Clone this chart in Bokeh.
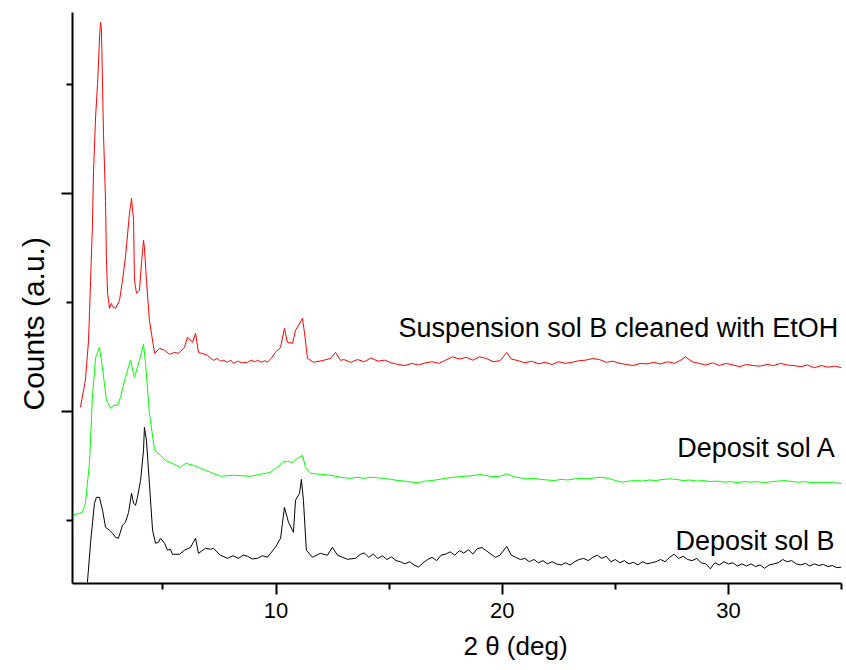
from bokeh.plotting import figure
from bokeh.models import FixedTicker, Label, Range1d, Title
from bokeh.embed import file_html
from bokeh.resources import INLINE

# ---- data (2-theta in deg, counts in a.u., curves stacked as plotted) ----
red_x = [1.35, 1.57, 1.71, 1.80, 1.88, 1.93, 2.02, 2.11, 2.20, 2.24, 2.28, 2.37, 2.46, 2.50, 2.55,
         2.64, 2.72, 2.77, 2.90, 3.08, 3.21, 3.34, 3.52, 3.61, 3.70, 3.74, 3.83, 3.96, 4.05, 4.14,
         4.18, 4.27, 4.40, 4.63, 4.85, 5.07, 5.29, 5.51, 5.69, 5.95, 6.08, 6.31, 6.44, 6.57, 6.97,
         7.10, 7.23, 7.40, 7.54, 7.68, 7.85, 8.00, 8.12, 8.30, 8.50, 8.74, 8.90, 9.05, 9.18, 9.35,
         9.50, 9.62, 9.80, 9.97, 10.20, 10.37, 10.50, 10.73, 10.86, 11.17, 11.26, 11.39, 11.65, 12.10,
         12.41, 12.63, 12.85, 13.00,
         13.3, 13.6, 13.9, 14.2, 14.5, 14.8, 15.1, 15.4, 15.7, 16.0, 16.3, 16.6, 16.9, 17.2, 17.5,
         17.8, 18.1, 18.4, 18.7, 19.0, 19.3, 19.6, 19.9, 20.2, 20.4, 20.7, 21.0, 21.3, 21.6, 21.9,
         22.2, 22.5, 22.8, 23.1, 23.4, 23.7, 24.0, 24.3, 24.6, 24.9, 25.2, 25.5, 25.8, 26.1, 26.4,
         26.7, 27.0, 27.3, 27.6, 27.9, 28.1, 28.4, 28.7, 29.0, 29.3, 29.6, 29.9, 30.2, 30.5, 30.8,
         31.1, 31.4, 31.7, 32.0, 32.3, 32.6, 32.9, 33.2, 33.5, 33.8, 34.1, 34.4, 34.7, 35.0]
red_y = [2037, 2284, 2651, 3202, 3700, 4200, 4700, 5009, 5450, 5569, 5500, 4550, 3936, 3400, 3083,
         2945, 2990, 2963, 2945, 3018, 3202, 3413, 3816, 3954, 3752, 3202, 3083, 3110, 3358, 3569,
         3505, 3202, 2835, 2532, 2578, 2560, 2523, 2541, 2532, 2587, 2679, 2633, 2716, 2541, 2514,
         2490, 2468, 2485, 2460, 2468, 2450, 2470, 2440, 2460, 2445, 2450, 2470, 2455, 2468, 2450,
         2465, 2450, 2490, 2541, 2587, 2761, 2633, 2624, 2743, 2853, 2716, 2486, 2450, 2468,
         2486, 2541, 2468, 2475,
         2450, 2475, 2455, 2490, 2460, 2470, 2445, 2430, 2420, 2440, 2425, 2445, 2455, 2440, 2470,
         2500, 2480, 2495, 2470, 2500, 2485, 2455, 2465, 2540, 2480, 2465, 2445, 2460, 2435, 2450,
         2430, 2455, 2440, 2450, 2465, 2470, 2485, 2475, 2450, 2460, 2440, 2430, 2420, 2440, 2435,
         2450, 2435, 2455, 2440, 2470, 2500, 2455, 2440, 2425, 2445, 2420, 2440, 2425, 2410, 2430,
         2420, 2415, 2430, 2420, 2440, 2425, 2420, 2410, 2425, 2400, 2420, 2405, 2415, 2400]

green_x = [1.00, 1.44, 1.57, 1.75, 1.88, 2.02, 2.19, 2.28, 2.41, 2.50, 2.68, 2.81, 2.99, 3.12, 3.34,
           3.56, 3.74, 3.96, 4.14, 4.23, 4.40, 4.63, 4.89, 5.11, 5.42, 5.77, 6.00, 6.35, 6.66, 7.10,
           7.54, 8.12, 8.87, 9.31, 9.75, 10.06, 10.28, 10.50, 10.73, 10.95, 11.17, 11.30, 11.52, 11.96,
           12.41, 12.85, 13.29,
           13.6, 13.9, 14.2, 14.5, 14.8, 15.1, 15.4, 15.7, 16.0, 16.3, 16.6, 16.9, 17.2, 17.5, 17.8,
           18.1, 18.4, 18.7, 19.0, 19.3, 19.6, 19.9, 20.2, 20.5, 20.8, 21.1, 21.4, 21.7, 22.0, 22.3,
           22.6, 22.9, 23.2, 23.5, 23.8, 24.1, 24.4, 24.7, 25.0, 25.3, 25.6, 25.9, 26.2, 26.5, 26.8,
           27.1, 27.4, 27.7, 28.0, 28.3, 28.6, 28.9, 29.2, 29.5, 29.8, 30.1, 30.4, 30.7, 31.0, 31.3,
           31.6, 31.9, 32.2, 32.5, 32.8, 33.1, 33.4, 33.7, 34.0, 34.3, 34.6, 35.0]
green_y = [1046, 1073, 1156, 1523, 2128, 2495, 2587, 2468, 2257, 2101, 2028, 2055, 2055, 2128, 2312,
           2468, 2312, 2468, 2615, 2440, 1982, 1642, 1596, 1550, 1523, 1486, 1523, 1505, 1477, 1440,
           1404, 1413, 1404, 1422, 1440, 1486, 1532, 1541, 1532, 1569, 1596, 1486, 1431, 1422,
           1413, 1394, 1385,
           1395, 1385, 1395, 1390, 1385, 1375, 1365, 1360, 1350, 1345, 1360, 1365, 1375, 1385, 1395,
           1400, 1405, 1410, 1420, 1410, 1400, 1405, 1425, 1400, 1390, 1380, 1385, 1375, 1370, 1365,
           1375, 1370, 1380, 1385, 1380, 1390, 1395, 1385, 1365, 1350, 1360, 1365, 1360, 1370, 1365,
           1375, 1380, 1375, 1365, 1370, 1360, 1365, 1355, 1360, 1350, 1355, 1345, 1355, 1350, 1355,
           1345, 1355, 1360, 1365, 1355, 1350, 1355, 1345, 1350, 1345, 1350, 1335]

black_x = [1.66, 1.80, 1.97, 2.06, 2.19, 2.33, 2.46, 2.64, 2.77, 2.90, 3.03, 3.21, 3.34, 3.48, 3.61,
           3.70, 3.79, 3.87, 4.01, 4.14, 4.18, 4.27, 4.40, 4.54, 4.67, 4.80, 4.89, 5.07, 5.20, 5.33,
           5.42, 5.73, 5.95, 6.22, 6.44, 6.57, 6.88, 7.10, 7.23, 7.54, 7.85, 8.10, 8.34, 8.55, 8.74,
           8.95, 9.18, 9.40, 9.62, 9.97, 10.20, 10.37, 10.55, 10.77, 10.86, 11.04, 11.12, 11.21, 11.34,
           11.61, 11.96, 12.27, 12.49, 12.72, 13.16, 13.51, 13.73,
           13.9, 14.1, 14.3, 14.5, 14.7, 14.9, 15.1, 15.3, 15.5, 15.7, 15.9, 16.1, 16.3, 16.5, 16.7,
           16.9, 17.1, 17.3, 17.5, 17.7, 17.9, 18.1, 18.3, 18.5, 18.7, 18.9, 19.1, 19.3, 19.5, 19.7,
           19.9, 20.2, 20.4, 20.6, 20.8, 21.0, 21.2, 21.4, 21.6, 21.8, 22.0, 22.2, 22.4, 22.6, 22.8,
           23.0, 23.2, 23.4, 23.6, 23.8, 24.0, 24.2, 24.4, 24.6, 24.8, 25.0, 25.2, 25.4, 25.6, 25.8,
           26.0, 26.2, 26.4, 26.6, 26.8, 27.0, 27.2, 27.4, 27.6, 27.8, 28.0, 28.2, 28.4, 28.6, 28.8,
           29.0, 29.2, 29.4, 29.6, 29.8, 30.0, 30.2, 30.4, 30.6, 30.8, 31.0, 31.2, 31.4, 31.6, 31.8,
           32.0, 32.2, 32.4, 32.6, 32.8, 33.0, 33.2, 33.4, 33.6, 33.8, 34.0, 34.2, 34.4, 34.6, 34.8,
           35.0]
black_y = [431, 798, 1156, 1211, 1211, 1092, 936, 908, 881, 844, 835, 954, 982, 1073, 1248,
           1156, 1138, 1211, 1367, 1642, 1853, 1734, 1339, 908, 789, 798, 835, 789, 725, 734,
           688, 688, 725, 752, 835, 697, 743, 734, 743, 679, 651, 675, 651, 680, 670,
           645, 651, 675, 661, 752, 835, 1119, 982, 890, 1184, 1248, 1376, 1184, 725,
           661, 697, 679, 752, 679, 642, 651, 688,
           700, 660, 690, 650, 675, 640, 665, 630, 620, 600, 620, 590, 570, 610, 640,
           660, 630, 680, 690, 710, 680, 720, 700, 730, 690, 740, 750, 720, 690, 660,
           680, 760, 680, 660, 640, 650, 620, 640, 610, 630, 600, 620, 600, 590, 610,
           590, 620, 640, 650, 630, 660, 680, 650, 670, 620, 640, 610, 630, 600, 615,
           590, 620, 600, 610, 620, 640, 620, 660, 690, 650, 670, 640, 630, 650, 610,
           600, 555, 610, 590, 620, 600, 610, 580, 600, 580, 600, 575, 590, 560, 590,
           600, 610, 640, 620, 630, 600, 590, 605, 580, 600, 585, 595, 575, 585, 565,
           570]

x_major_ticks = [10, 20, 30]
x_minor_ticks = [5, 15, 25, 35]
y_major_ticks = [2000, 4000]
y_minor_ticks = [1000, 3000, 5000]

series_labels = ["Suspension sol B cleaned with EtOH", "Deposit sol A", "Deposit sol B"]
label_x = [34.86, 34.77, 34.69]
label_y = [2761, 1661, 807]

FONT = "Liberation Sans"

p = figure(width=846, height=670, output_backend="svg", toolbar_location=None,
           x_range=Range1d(1, 35), y_range=Range1d(420, 5660),
           min_border_left=72, min_border_right=5, min_border_top=12, min_border_bottom=87)
p.outline_line_color = None
p.grid.visible = False
p.background_fill_color = "white"
p.border_fill_color = "white"

p.line(red_x, red_y, line_color="#ff0000", line_width=1)
p.line(green_x, green_y, line_color="#00ff00", line_width=1)
p.line(black_x, black_y, line_color="#000000", line_width=1)

for ax in (p.xaxis[0], p.yaxis[0]):
    ax.axis_line_width = 2
    ax.axis_line_color = "black"
    ax.major_tick_line_width = 2
    ax.minor_tick_line_width = 2
    ax.major_tick_in = 0
    ax.minor_tick_in = 0
    ax.major_tick_out = 11
    ax.minor_tick_out = 6

p.xaxis.ticker = FixedTicker(ticks=x_major_ticks, minor_ticks=x_minor_ticks)
p.yaxis.ticker = FixedTicker(ticks=y_major_ticks, minor_ticks=y_minor_ticks)
p.xaxis.major_label_text_font = FONT
p.xaxis.major_label_text_font_size = "22px"
p.xaxis.major_label_text_color = "black"
p.xaxis.major_label_standoff = 8
p.yaxis.major_label_overrides = {t: "" for t in y_major_ticks}
p.yaxis.major_label_standoff = 0

# axis titles, placed as in the reference
p.add_layout(Title(text="2 \u03b8 (deg)", text_font=FONT, text_font_size="26px",
                   text_font_style="normal", text_color="black", align="left",
                   offset=391, standoff=16), "below")
p.add_layout(Title(text="Counts (a.u.)", text_font=FONT, text_font_size="30px",
                   text_font_style="normal", text_color="black", align="left",
                   offset=173, standoff=24), "left")

for t, lx, ly in zip(series_labels, label_x, label_y):
    p.add_layout(Label(x=lx, y=ly, text=t, text_font=FONT, text_font_size="27px",
                       text_align="right", text_baseline="middle", text_color="black"))

open("out.html", "w").write(file_html(p, INLINE))
